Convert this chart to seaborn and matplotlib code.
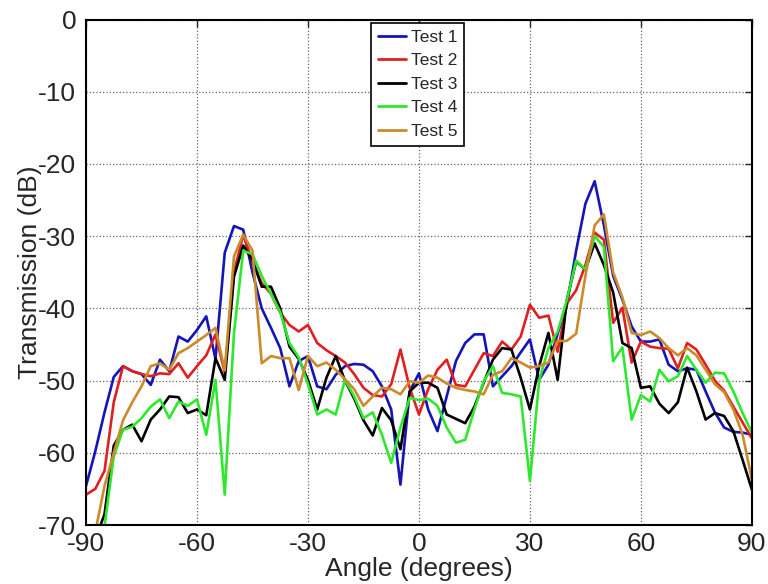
import numpy as np
import pandas as pd
import matplotlib
matplotlib.use("Agg")
import matplotlib.pyplot as plt
import seaborn as sns

angles = np.linspace(-90, 90, 73)

test1 = [-64.6, -59.8, -54.4, -49.5, -48.0, -48.7, -49.1, -50.6, -47.1, -48.7,
         -43.9, -44.6, -43.0, -41.1, -47.0, -32.3, -28.6, -29.1, -35.0, -40.0,
         -42.7, -45.5, -50.8, -47.3, -46.6, -50.8, -51.2, -49.2, -48.0, -47.7,
         -47.8, -48.7, -50.8, -54.0, -64.4, -51.5, -49.0, -54.0, -57.0, -52.2,
         -47.3, -44.8, -43.6, -43.6, -50.8, -49.4, -48.0, -46.1, -44.3, -49.9,
         -47.8, -43.5, -39.5, -32.0, -25.5, -22.4, -28.5, -35.5, -38.8, -42.5,
         -44.6, -44.6, -44.3, -47.8, -48.7, -48.3, -48.5, -51.5, -54.4, -56.5,
         -57.1, -57.2, -57.5]
test2 = [-65.8, -65.0, -62.5, -53.0, -48.0, -48.7, -49.1, -49.4, -49.0, -49.1,
         -47.6, -49.6, -48.0, -46.5, -43.6, -48.9, -35.0, -29.8, -33.5, -36.5,
         -38.0, -40.6, -42.3, -43.2, -42.3, -44.8, -45.8, -46.6, -47.5, -49.1,
         -51.0, -52.0, -52.2, -50.5, -45.7, -51.0, -54.7, -51.2, -48.5, -47.1,
         -50.6, -50.8, -48.5, -46.2, -46.6, -44.6, -45.7, -43.9, -39.5, -41.3,
         -41.0, -46.0, -39.3, -37.5, -34.0, -29.5, -30.5, -42.0, -39.9, -47.5,
         -44.6, -45.3, -45.5, -45.6, -48.3, -44.8, -45.7, -47.8, -50.0, -51.4,
         -53.6, -55.8, -58.0]
test3 = [-76.0, -72.0, -68.5, -59.0, -56.8, -56.1, -58.4, -55.4, -54.0, -52.2,
         -52.3, -54.5, -54.0, -54.8, -46.9, -49.9, -35.6, -31.3, -33.3, -37.0,
         -37.0, -40.0, -45.3, -47.0, -49.9, -54.0, -49.6, -46.6, -50.0, -52.5,
         -55.5, -57.6, -53.8, -55.5, -59.5, -51.5, -50.3, -50.3, -51.0, -54.7,
         -55.3, -55.9, -53.6, -50.3, -47.1, -45.5, -45.7, -49.6, -54.0, -48.0,
         -43.4, -49.9, -38.8, -33.5, -34.6, -31.0, -34.0, -37.8, -44.8, -45.5,
         -51.0, -50.8, -53.2, -54.5, -53.0, -48.2, -51.5, -55.4, -54.5, -54.9,
         -57.0, -61.0, -65.1]
test4 = [-82.0, -76.0, -70.2, -60.5, -56.8, -56.4, -55.2, -53.6, -52.6, -55.2,
         -52.9, -53.5, -52.6, -57.5, -49.9, -65.8, -43.4, -32.0, -32.5, -35.5,
         -38.0, -40.5, -44.8, -46.8, -50.5, -54.7, -54.0, -54.7, -49.9, -52.2,
         -55.2, -54.4, -57.5, -61.4, -56.5, -52.4, -52.7, -52.5, -53.5, -56.5,
         -58.6, -58.2, -54.0, -50.1, -48.0, -51.7, -51.9, -52.2, -63.9, -50.0,
         -45.5, -43.2, -38.8, -33.4, -34.6, -30.0, -31.5, -47.3, -45.4, -55.4,
         -52.0, -52.9, -48.5, -50.1, -49.4, -46.6, -48.5, -50.3, -48.9, -49.0,
         -51.5, -54.5, -57.2]
test5 = [-80.0, -71.0, -64.6, -60.0, -55.5, -53.0, -50.8, -48.0, -47.6, -48.5,
         -46.2, -45.5, -44.6, -43.7, -42.7, -48.6, -32.8, -29.8, -32.0, -47.6,
         -46.6, -46.9, -46.9, -51.3, -46.6, -48.0, -47.5, -48.5, -49.8, -51.2,
         -53.5, -52.2, -51.0, -51.2, -51.9, -50.1, -50.3, -49.3, -49.6, -50.4,
         -51.0, -51.3, -51.5, -51.9, -49.2, -48.7, -46.9, -47.5, -48.2, -48.0,
         -47.5, -44.5, -44.5, -43.5, -35.5, -28.5, -27.0, -35.0, -38.5, -43.4,
         -43.7, -43.2, -44.1, -45.5, -46.5, -45.5, -46.5, -48.5, -50.5, -51.6,
         -54.0, -57.5, -63.7]

series_names = ["Test 1", "Test 2", "Test 3", "Test 4", "Test 5"]
series_values = [test1, test2, test3, test4, test5]
colors = ["#1414B8", "#E02020", "#000000", "#2EE82E", "#CC8A2A"]

x_ticks = [-90, -60, -30, 0, 30, 60, 90]
y_ticks = [-70, -60, -50, -40, -30, -20, -10, 0]

frames = []
for name, vals in zip(series_names, series_values):
    frames.append(pd.DataFrame({"Angle": angles, "dB": vals, "Test": name}))
df = pd.concat(frames, ignore_index=True)

sns.set_style("white")
plt.rcParams["font.family"] = ["Liberation Sans", "DejaVu Sans"]
plt.rcParams["axes.unicode_minus"] = False

fig = plt.figure(figsize=(7.68, 5.84), dpi=100)
ax = fig.add_axes([0.112, 0.101, 0.867, 0.8656])

sns.lineplot(data=df, x="Angle", y="dB", hue="Test", hue_order=series_names,
             palette=dict(zip(series_names, colors)), estimator=None, sort=False,
             linewidth=1.9, ax=ax, legend=True)

ax.set_xlim(-90, 90)
ax.set_ylim(-70, 0)
ax.set_xticks(x_ticks)
ax.set_yticks(y_ticks)
ax.tick_params(direction="in", top=True, right=True, length=5, width=1,
               labelsize=19)
ax.tick_params(axis="x", pad=5)
ax.tick_params(axis="y", pad=7)
ax.grid(True, linestyle=":", color="0.4", linewidth=0.9)
for sp in ax.spines.values():
    sp.set_visible(True)
    sp.set_color("black")
    sp.set_linewidth(1.5)

ax.set_xlabel("Angle (degrees)", fontsize=19, labelpad=1)
ax.set_ylabel("Transmission (dB)", fontsize=19, labelpad=-2.5)

leg = ax.legend(loc="upper center", bbox_to_anchor=(0.498, 0.994),
                borderaxespad=0, fontsize=12.5, handlelength=1.6,
                handletextpad=0.3, labelspacing=0.48, borderpad=0.4,
                fancybox=False, framealpha=1, edgecolor="black")
leg.get_frame().set_linewidth(1.2)
for line in leg.get_lines():
    line.set_linewidth(2)

fig.savefig("out.png", dpi=100)
